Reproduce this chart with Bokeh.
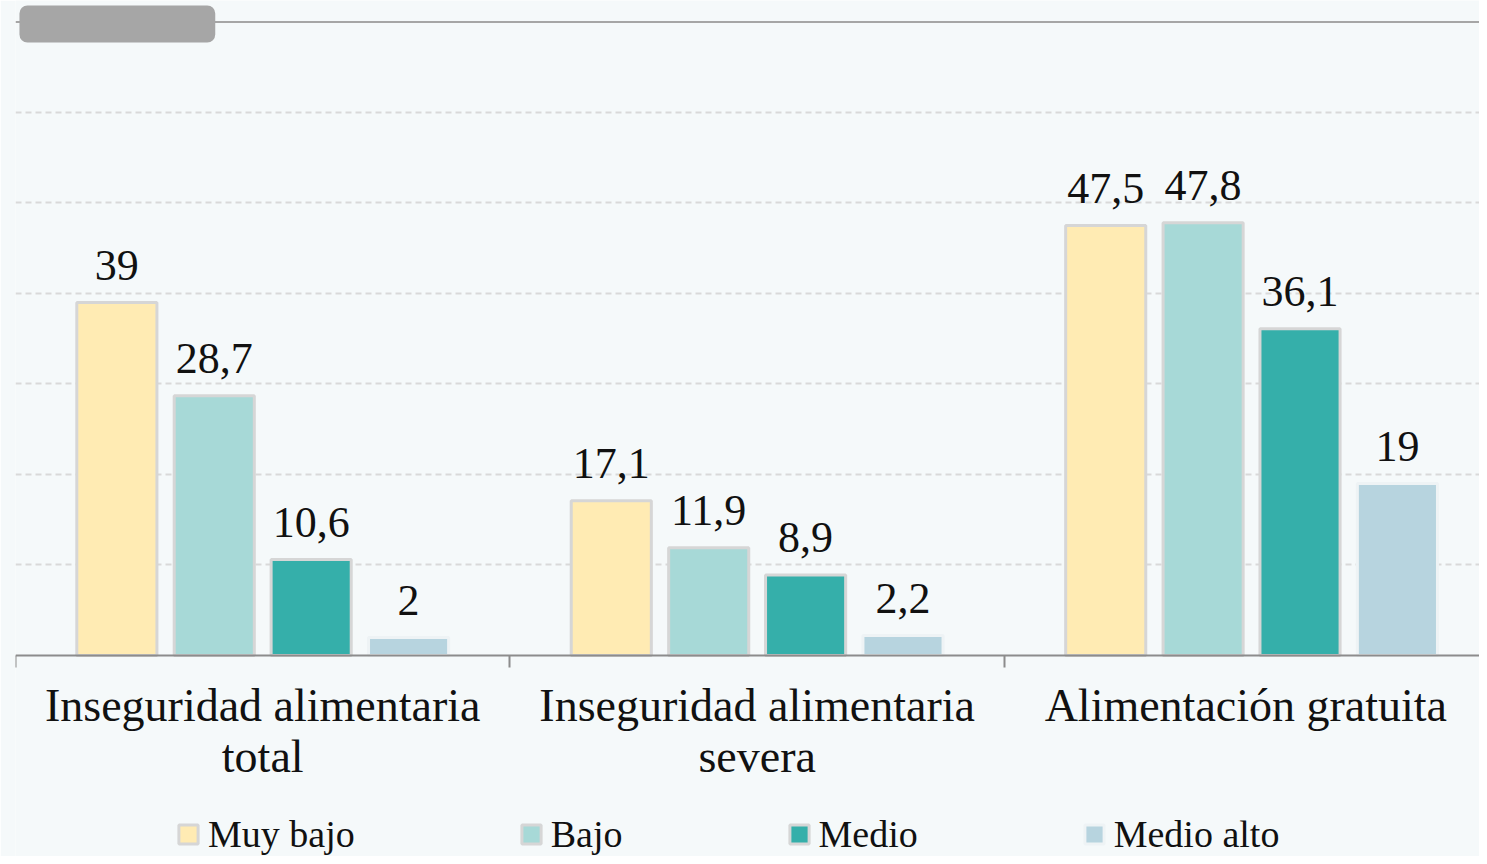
from bokeh.plotting import figure
from bokeh.models import (ColumnDataSource, FixedTicker, Span, BoxAnnotation,
                          Legend, LegendItem, Range1d)
from bokeh.embed import file_html
from bokeh.resources import INLINE
from bokeh.core.properties import value

categories = ["Inseguridad alimentaria\ntotal", "Inseguridad alimentaria\nsevera",
              "Alimentación  gratuita"]
series_names = ["Muy bajo", "Bajo", "Medio", "Medio alto"]
muy_bajo = [39, 17.1, 47.5]
bajo = [28.7, 11.9, 47.8]
medio = [10.6, 8.9, 36.1]
medio_alto = [2, 2.2, 19]
colors = ["#FFEBB3", "#A7D9D7", "#35AFAA", "#B7D4DF"]
edge_colors = ["#d6d6d6", "#d6d6d6", "#d6d6d6", "#eef3f5"]
gridlines = [10, 20, 30, 40, 50, 60]

FONT = "Liberation Serif"
BG = "#f5f9fa"

p = figure(width=1479, height=856, output_backend="svg", toolbar_location=None,
           x_range=Range1d(0, 2.961), y_range=Range1d(-22.21, 72.37),
           min_border_left=15, min_border_right=0, min_border_top=0,
           min_border_bottom=0)
p.background_fill_color = BG
p.border_fill_color = BG
p.outline_line_color = None
p.yaxis.visible = False
p.xgrid.visible = False
p.ygrid.ticker = FixedTicker(ticks=gridlines)
p.ygrid.grid_line_color = "#d9d9d9"
p.ygrid.grid_line_width = 2
p.ygrid.grid_line_dash = "6 4"

offsets = [-0.295, -0.098, 0.098, 0.295]
series = [muy_bajo, bajo, medio, medio_alto]
items = []
for k, (vals, name) in enumerate(zip(series, series_names)):
    xs = [i + 0.5 + offsets[k] for i in range(len(categories))]
    labels = [("%g" % v).replace(".", ",") for v in vals]
    src = ColumnDataSource(dict(x=xs, top=vals, label=labels))
    r = p.vbar(x="x", top="top", bottom=0, width=0.162, source=src, fill_color=colors[k],
               line_color=edge_colors[k], line_width=3)
    p.text(x="x", y="top", text="label", source=src, text_align="center",
           text_baseline="alphabetic", y_offset=-37, text_font=value(FONT),
           text_font_size="44px", text_color="#111111")
    items.append(LegendItem(label=name, renderers=[r]))

p.add_layout(Span(location=70, dimension="width", line_color="#a6a6a6", line_width=2))
p.add_layout(BoxAnnotation(left=0.008, right=0.404, bottom=67.73, top=71.82,
                           fill_color="#a6a6a6", fill_alpha=1, line_color=None,
                           border_radius=8))

ax = p.xaxis[0]
ax.fixed_location = 0
ax.ticker = FixedTicker(ticks=[0.5, 1.5, 2.5], minor_ticks=[0, 1, 2, 3])
ax.major_label_overrides = {0.5: categories[0], 1.5: categories[1], 2.5: categories[2]}
ax.axis_line_color = "#8c8c8c"
ax.axis_line_width = 2
ax.major_tick_line_color = None
ax.major_tick_out = 0
ax.major_tick_in = 0
ax.minor_tick_line_color = "#8c8c8c"
ax.minor_tick_line_width = 2
ax.minor_tick_in = 0
ax.minor_tick_out = 12
ax.major_label_standoff = 13
ax.major_label_text_font = FONT
ax.major_label_text_font_size = "46px"
ax.major_label_text_line_height = 1.0
ax.major_label_text_color = "#111111"

legend = Legend(items=items, orientation="horizontal", location=(161, 0),
                glyph_width=24, glyph_height=24, label_standoff=8, spacing=164,
                padding=0, margin=0, background_fill_alpha=0, border_line_color=None,
                label_text_font=FONT, label_text_font_size="38px",
                label_text_color="#111111")
p.add_layout(legend)

open("out.html", "w").write(file_html(p, INLINE))
